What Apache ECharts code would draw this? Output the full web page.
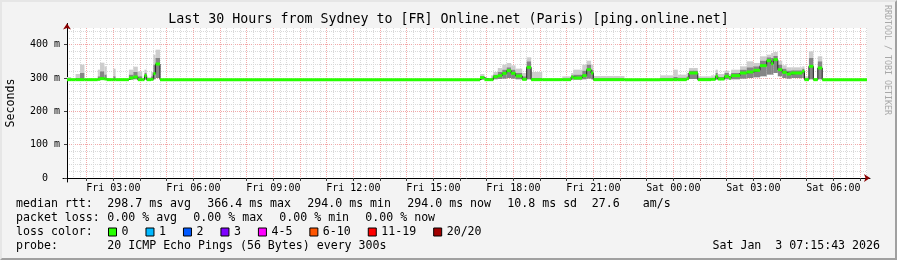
<!DOCTYPE html>
<html>
<head>
<meta charset="utf-8">
<script src="https://cdn.jsdelivr.net/npm/echarts@6/dist/echarts.min.js"></script>
<style>
html,body{margin:0;padding:0;background:#f3f3f3;}
#wrap{position:relative;width:897px;height:260px;overflow:hidden;}
#chart{position:absolute;left:0;top:0;width:897px;height:260px;}
#frame{position:absolute;left:0;top:0;width:897px;height:260px;box-sizing:border-box;border-style:solid;border-width:2px;border-color:#e6e6e6 #a0a0a0 #a0a0a0 #e6e6e6;pointer-events:none;}
</style>
</head>
<body>
<div id="wrap"><div id="chart"></div><div id="frame"></div></div>
<script>
// ---- time window (minutes since Fri 00:00) ----
const windowStart = 75.72;   // Fri 01:15:43
const windowEnd = 1875.72;   // Sat 07:15:43

// ---- axis ticks / labels ----
const xLabelValues = [180, 360, 540, 720, 900, 1080, 1260, 1440, 1620, 1800];
const xTickLabels = ['Fri 03:00','Fri 06:00','Fri 09:00','Fri 12:00','Fri 15:00','Fri 18:00','Fri 21:00','Sat 00:00','Sat 03:00','Sat 06:00'];
const yMajorValues = [0, 100, 200, 300, 400];
const yTickLabels = ['0  ', '100 m', '200 m', '300 m', '400 m'];

// ---- data: step segments (start minute), values in ms ----
const stepStart = [75.72,85,95,105,115,120,145,150,160,165,175,180,185,215,225,235,245,250,255,265,270,275,285,
  1005,1015,1030,1035,1045,1055,1065,1075,1085,1100,1110,1120,1145,
  1190,1210,1215,1235,1245,1255,1260,1330,
  1410,1440,1450,1470,1475,1495,1525,1535,1540,1555,1565,1570,1590,1605,1620,1635,1650,1660,1665,1675,1685,1695,1705,1730,1735,1745,1755,1765,1775];
const medianRtt = [295,295,295,295,295,295,296,298,297,295,295,295,295,300,303,295,295,307,295,296,313,342,295,
  301,295,295,304,307,314,322,314,306,296,332,295,295,
  295,303,300,307,325,315,295,295,
  295,295,295,298,315,295,296,305,297,305,300,307,315,318,323,337,352,343,355,325,317,312,315,320,295,335,295,330,295];
const smokeMin = [294,294,294,294,294,294,294,295,294,294,294,294,294,295,296,294,294,295,294,294,296,300,294,
  295,294,294,296,297,298,300,298,296,294,296,294,294,
  294,295,295,296,298,296,294,294,
  294,294,294,295,297,294,294,295,294,296,295,296,298,300,302,305,310,310,315,305,300,298,300,300,294,296,294,296,294];
const smokeMid = [297,296,300,315,297,296,305,320,310,297,296,305,296,310,318,305,297,315,298,305,340,360,296,
  305,297,300,310,318,325,332,325,315,305,350,300,296,
  298,308,310,322,340,325,299,296,
  299,303,301,305,322,300,300,315,303,315,305,315,325,332,335,352,362,360,366,340,328,322,323,328,300,360,298,350,296];
const smokeMax = [303,298,312,340,300,297,325,346,335,300,298,328,297,325,334,320,300,325,302,318,370,385,297,
  312,300,308,318,330,340,345,338,328,315,362,318,297,
  305,315,325,340,352,340,306,297,
  308,325,310,315,330,305,308,325,312,322,312,325,335,350,345,365,370,375,378,352,338,332,332,335,305,380,300,365,297];

// ---- loss colour legend ----
const lossNames = ['0','1','2','3','4-5','6-10','11-19','20/20'];
const lossColors = ['#26ff00','#00b8ff','#0059ff','#7e00ff','#ff00ff','#ff5500','#ff0000','#a10000'];

// ---- text ----
const titleText = 'Last 30 Hours from Sydney to [FR] Online.net (Paris) [ping.online.net]';
const rttItems = ['median rtt:', '298.7 ms avg', '366.4 ms max', '294.0 ms min', '294.0 ms now', '10.8 ms sd', '27.6', 'am/s'];
const lossItems = ['packet loss:', '0.00 % avg', '0.00 % max', '0.00 % min', '0.00 % now'];
const lossColorLabel = 'loss color:';
const probeItems = ['probe:', '20 ICMP Echo Pings (56 Bytes) every 300s'];
const dateText = 'Sat Jan  3 07:15:43 2026';

// layout of legend text columns (pixels)
const rttX = [16, 107.3, 207.3, 307.3, 407.3, 507.3, 591.7, 642.7];
const lossX = [16, 107.3, 193.3, 279.3, 365.3];
const probeX = [16, 107.3];

// grid helper values (axis structure)
const minorX = []; for (let m = 90; m <= windowEnd; m += 15) minorX.push(m);
const hourX = []; for (let m = 120; m <= windowEnd; m += 60) hourX.push(m);
const minorY = []; for (let v = 20; v <= 440; v += 20) minorY.push(v);

const FONT = 'DejaVu Sans Mono';

const segData = stepStart.map((t, i) => [t, i + 1 < stepStart.length ? stepStart[i + 1] : windowEnd, smokeMin[i], smokeMid[i], smokeMax[i], medianRtt[i]]);
const medLine = stepStart.map((t, i) => [t, medianRtt[i]]);
medLine.push([windowEnd, medianRtt[medianRtt.length - 1]]);

function smokeItem(params, api) {
  const a = api.coord([api.value(0), api.value(2)]);
  const b = api.coord([api.value(1), api.value(3)]);
  const c = api.coord([api.value(1), api.value(4)]);
  const w = b[0] - a[0];
  return {type: 'group', children: [
    {type: 'rect', shape: {x: a[0], y: c[1], width: w, height: b[1] - c[1]}, style: {fill: '#cdcdcd'}},
    {type: 'rect', shape: {x: a[0], y: b[1], width: w, height: a[1] - b[1]}, style: {fill: '#858585'}}
  ]};
}
function medItem(params, api) {
  const a = api.coord([api.value(0), api.value(5)]);
  const b = api.coord([api.value(1), api.value(5)]);
  return {type: 'rect', shape: {x: a[0], y: a[1] - 1.5, width: b[0] - a[0], height: 3}, style: {fill: lossColors[0]}};
}

const chart = echarts.init(document.getElementById('chart'), null, {renderer: 'canvas'});
const txt = (extra) => Object.assign({fontFamily: FONT, color: '#000', fontWeight: 'normal'}, extra);

const titles = [{text: titleText, left: 'center', top: 12.5, padding: 0, textStyle: txt({fontSize: 13.3, lineHeight: 14})}];
function addRow(items, xs, top) {
  items.forEach((s, i) => titles.push({text: s, left: xs[i], top: top, padding: 0, textStyle: txt({fontSize: 11.6, lineHeight: 14})}));
}
addRow(rttItems, rttX, 197);
addRow(lossItems, lossX, 211);
addRow([lossColorLabel], [16], 225);
addRow(probeItems, probeX, 239);
titles.push({text: dateText, right: 17, top: 239, padding: 0, textStyle: txt({fontSize: 11.6, lineHeight: 14})});

const series = [
  {type: 'custom', name: 'smoke', xAxisIndex: 0, yAxisIndex: 0, renderItem: smokeItem, data: segData, z: 2,
   encode: {x: [0, 1], y: [2, 3, 4]}, silent: true},
  {type: 'line', name: 'median', xAxisIndex: 0, yAxisIndex: 0, data: medLine, step: 'end', symbol: 'none',
   lineStyle: {color: '#202020', width: 1}, z: 3, silent: true},
  {type: 'custom', name: 'medianBand', xAxisIndex: 0, yAxisIndex: 0, renderItem: medItem, data: segData, z: 4,
   encode: {x: [0, 1], y: 5}, silent: true}
];
lossNames.forEach((n, i) => series.push({type: 'bar', name: n, xAxisIndex: 0, yAxisIndex: 0, data: [], itemStyle: {color: lossColors[i]}}));

const option = {
  animation: false,
  backgroundColor: '#f3f3f3',
  title: titles,
  legend: {
    data: lossNames, left: 108, top: 225, padding: 0, icon: 'rect', itemWidth: 8, itemHeight: 8, itemGap: 17,
    itemStyle: {borderColor: '#000', borderWidth: 1},
    textStyle: txt({fontSize: 11.6, lineHeight: 14}), selectedMode: false
  },
  grid: [
    {left: 67, top: 28, width: 800, height: 150, show: true, backgroundColor: '#ffffff', borderWidth: 0},
    {left: 63, top: 28, width: 807, height: 150, show: false},
    {left: 67, top: 23.5, width: 800, height: 158.5, show: false}
  ],
  xAxis: [
    {gridIndex: 0, type: 'value', min: windowStart, max: windowEnd, position: 'bottom',
     axisLine: {show: false}, axisTick: {show: false, customValues: minorX}, axisLabel: {show: false},
     splitLine: {show: true, lineStyle: {color: '#d9d9d9', width: 1, type: [1, 1]}}},
    {gridIndex: 0, type: 'value', min: windowStart, max: windowEnd, position: 'bottom',
     axisLine: {show: false}, axisTick: {show: true, customValues: hourX, length: 3, lineStyle: {color: '#404040'}},
     axisLabel: {show: true, customValues: xLabelValues, margin: 5, fontFamily: FONT, fontSize: 10, color: '#000',
       formatter: v => xTickLabels[xLabelValues.indexOf(v)] || ''},
     splitLine: {show: true, lineStyle: {color: '#f2a8a8', width: 1, type: [1, 1]}}},
    {gridIndex: 1, type: 'value', min: 0, max: 1, position: 'bottom',
     axisLine: {show: true, lineStyle: {color: '#000', width: 1}}, axisTick: {show: false}, axisLabel: {show: false}, splitLine: {show: false}},
    {gridIndex: 1, type: 'value', min: 0, max: 1, position: 'bottom',
     axisLine: {show: true, symbol: ['none', 'arrow'], symbolSize: [6, 6], lineStyle: {color: '#8b0000', width: 0}}, axisTick: {show: false}, axisLabel: {show: false}, splitLine: {show: false}},
    {gridIndex: 2, type: 'value', min: 0, max: 1, show: false}
  ],
  yAxis: [
    {gridIndex: 0, type: 'value', min: 0, max: 450, position: 'left',
     axisLine: {show: false}, axisTick: {show: false, customValues: minorY}, axisLabel: {show: false},
     splitLine: {show: true, lineStyle: {color: '#d9d9d9', width: 1, type: [1, 1]}}},
    {gridIndex: 0, type: 'value', min: 0, max: 450, position: 'left',
     axisLine: {show: false}, axisTick: {show: true, customValues: yMajorValues, length: 3, lineStyle: {color: '#404040'}},
     axisLabel: {show: true, customValues: yMajorValues, margin: 7, fontFamily: FONT, fontSize: 10, color: '#000',
       formatter: v => yTickLabels[yMajorValues.indexOf(v)]},
     splitLine: {show: true, lineStyle: {color: '#f2a8a8', width: 1, type: [1, 1]}}},
    {gridIndex: 1, type: 'value', min: 0, max: 1, show: false},
    {gridIndex: 2, type: 'value', min: 0, max: 1, position: 'left',
     axisLine: {show: true, lineStyle: {color: '#000', width: 1}}, axisTick: {show: false}, axisLabel: {show: false}, splitLine: {show: false}},
    {gridIndex: 2, type: 'value', min: 0, max: 1, position: 'left',
     axisLine: {show: true, symbol: ['none', 'arrow'], symbolSize: [6, 6], lineStyle: {color: '#8b0000', width: 0}}, axisTick: {show: false}, axisLabel: {show: false}, splitLine: {show: false}}
  ],
  graphic: [
    {type: 'text', x: 11, y: 103, rotation: Math.PI / 2, silent: true,
     style: {text: 'Seconds', font: '11.6px "DejaVu Sans Mono"', fill: '#000', align: 'center', verticalAlign: 'middle'}},
    {type: 'text', x: 887.5, y: 5, rotation: -Math.PI / 2, silent: true,
     style: {text: 'RRDTOOL / TOBI OETIKER', font: '8.3px "DejaVu Sans Mono"', fill: '#a8a8a8', align: 'left', verticalAlign: 'middle'}}
  ],
  series: series
};
chart.setOption(option);
</script>
</body>
</html>
